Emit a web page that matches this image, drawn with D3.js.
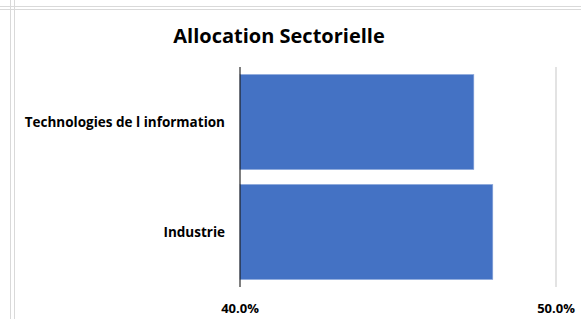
<!DOCTYPE html>
<html>
<head>
<meta charset="utf-8">
<script src="https://cdn.jsdelivr.net/npm/d3@7"></script>
<style>
  html, body { margin: 0; padding: 0; background: #fff; }
  svg { display: block; }
  text { font-family: "Open Sans", Lato, sans-serif; font-weight: bold; fill: #000; }
</style>
</head>
<body>
<svg id="chart" width="581" height="319"></svg>
<script>
const title = "Allocation Sectorielle";
const categories = ["Technologies de l information", "Industrie"];
const values = [0.474, 0.480];
const tickValues = [0.40, 0.50];

const W = 581, H = 319;
const margin = { left: 240, right: 25, top: 67, bottom: 32 };
const svg = d3.select("#chart");

// spreadsheet cell borders
const g0 = svg.append("g").attr("stroke", "#d9d9d9").attr("stroke-width", 1);
g0.append("line").attr("x1", 0).attr("x2", W).attr("y1", 6.5).attr("y2", 6.5);
g0.append("line").attr("x1", 0).attr("x2", W).attr("y1", 9.5).attr("y2", 9.5);
g0.append("line").attr("x1", 10.5).attr("x2", 10.5).attr("y1", 0).attr("y2", H);
g0.append("line").attr("x1", 14.5).attr("x2", 14.5).attr("y1", 0).attr("y2", H);
svg.append("rect").attr("x", 11).attr("y", 7).attr("width", 3).attr("height", 2).attr("fill", "#fff");

const x = d3.scaleLinear().domain([0.40, 0.50]).range([margin.left, margin.left + 316]);
const y = d3.scaleBand().domain(categories).range([margin.top, margin.top + 220]).paddingInner(0.135).paddingOuter(0.068);

// gridline
svg.append("g").selectAll("line").data(tickValues.slice(1)).join("line")
  .attr("x1", d => Math.round(x(d))).attr("x2", d => Math.round(x(d)))
  .attr("y1", margin.top).attr("y2", margin.top + 220)
  .attr("stroke", "#e3e3e3").attr("stroke-width", 2);

// bars
svg.append("g").selectAll("rect").data(categories).join("rect")
  .attr("x", x(0.40))
  .attr("y", d => y(d))
  .attr("width", (d, i) => x(values[i]) - x(0.40))
  .attr("height", y.bandwidth())
  .attr("fill", "#4472C4")
  .attr("stroke", "#8faadc").attr("stroke-width", 0.6);

// y axis line
svg.append("line").attr("x1", x(0.40)).attr("x2", x(0.40))
  .attr("y1", margin.top).attr("y2", margin.top + 220)
  .attr("stroke", "#000").attr("stroke-width", 1);

// category labels
svg.append("g").selectAll("text").data(categories).join("text")
  .attr("x", 225)
  .attr("y", d => y(d) + y.bandwidth() / 2)
  .attr("dy", "0.35em")
  .attr("text-anchor", "end")
  .attr("font-size", 13.5)
  .text(d => d);

// x tick labels
const fmt = d3.format(".1%");
svg.append("g").selectAll("text").data(tickValues).join("text")
  .attr("x", d => x(d))
  .attr("y", 313)
  .attr("text-anchor", "middle")
  .attr("font-size", 13)
  .text(d => fmt(d));

// title
svg.append("text").attr("x", 279).attr("y", 43)
  .attr("text-anchor", "middle").attr("font-size", 20)
  .text(title);
</script>
</body>
</html>
